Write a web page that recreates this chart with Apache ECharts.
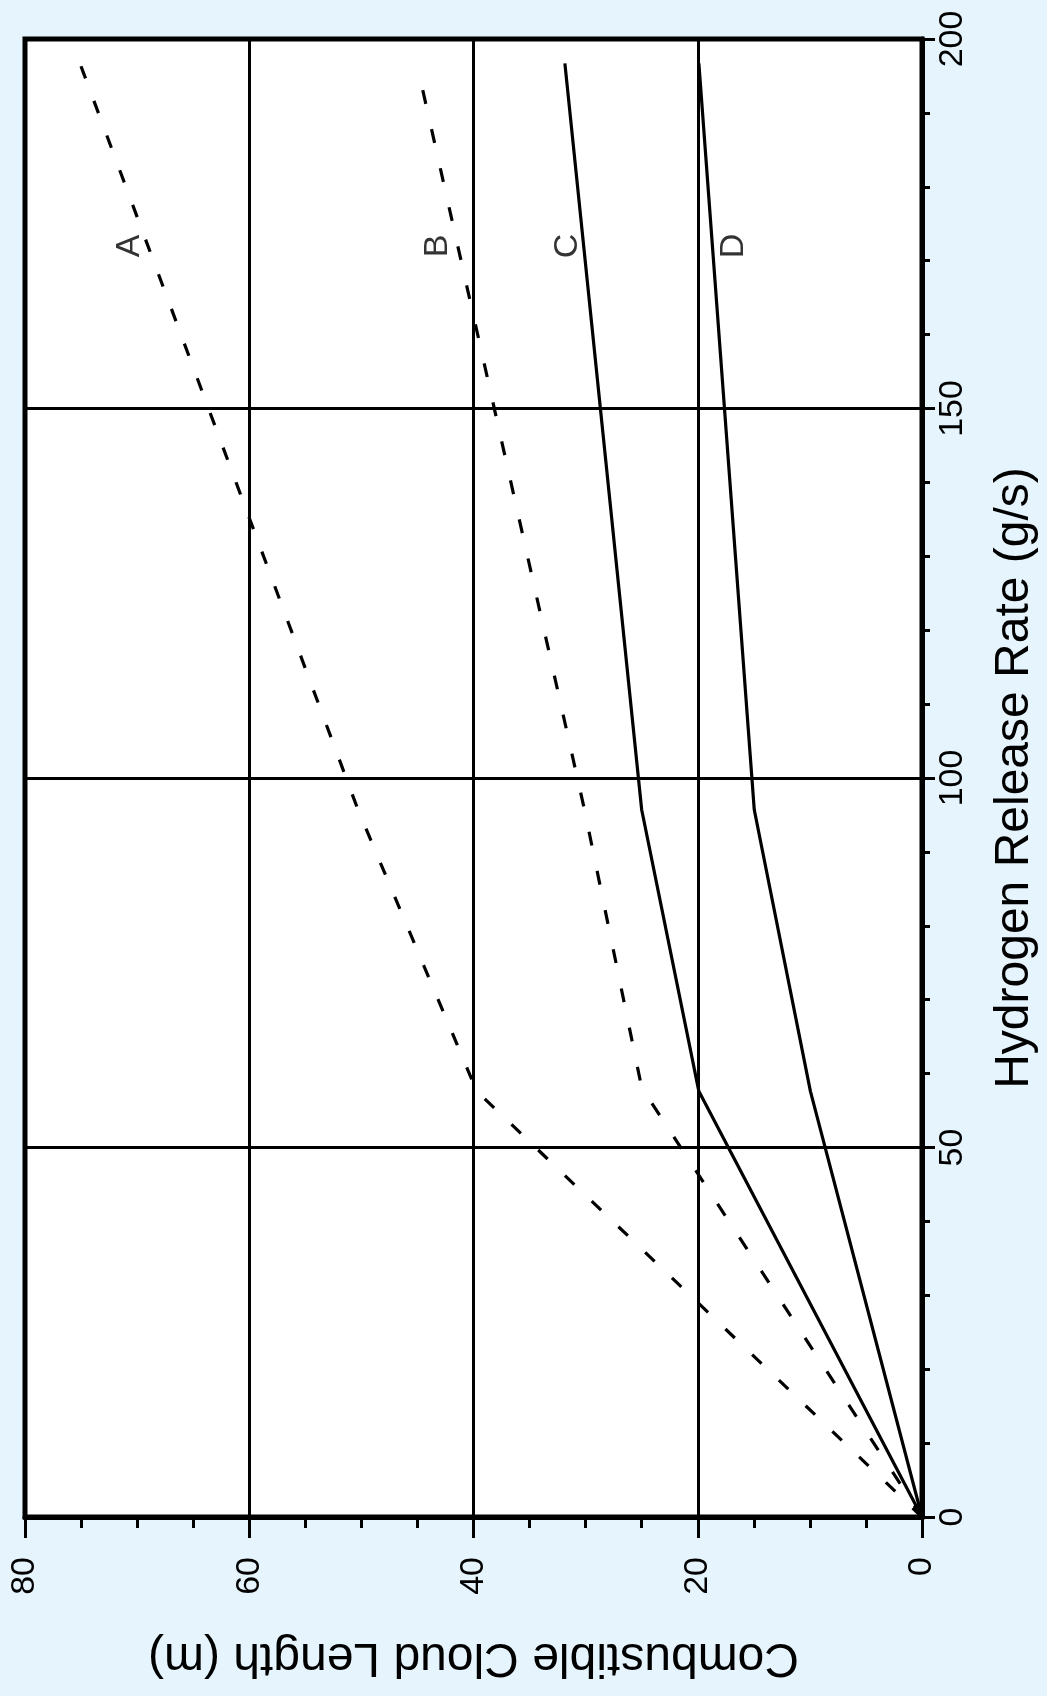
<!DOCTYPE html>
<html><head><meta charset="utf-8">
<script src="https://cdn.jsdelivr.net/npm/echarts@6/dist/echarts.min.js"></script>
<style>html,body{margin:0;padding:0;background:#e6f5fd;}#c{width:1047px;height:1696px;}</style>
</head><body><div id="c"></div>
<script>
// Combustible cloud length (m) vs hydrogen release rate (g/s), curves A-D
const lengthA = [0, 39.7, 50.3, 75.1];
const rateA   = [0, 57.6, 95.7, 196.7];
const lengthB = [0, 25.0, 30.1, 44.9];
const rateB   = [0, 58.1, 95.7, 195.6];
const lengthC = [0, 19.9, 25.0, 31.85];
const rateC   = [0, 57.6, 95.7, 196.7];
const lengthD = [0, 9.95, 14.96, 19.9];
const rateD   = [0, 57.6, 95.7, 196.7];
const curveNames = ['A', 'B', 'C', 'D'];
const labelLengths = [70.7, 43.2, 31.6, 16.8];
const labelRates = [172, 172, 172, 172];
const lengthTicks = [0, 20, 40, 60, 80];
const rateTicks = [0, 50, 100, 150, 200];

const FONT = "'Liberation Sans', Arial, Helvetica, sans-serif";
const pairs = (xs, ys) => xs.map((x, i) => [x, ys[i]]);
const lineSeries = (name, xs, ys, type) => ({
  name, type: 'line', data: pairs(xs, ys), symbol: 'none', silent: true,
  lineStyle: { color: '#000', width: 3.2, type: type }, z: 3
});

const chart = echarts.init(document.getElementById('c'), null, { renderer: 'canvas' });
chart.setOption({
  animation: false,
  backgroundColor: '#e6f5fd',
  grid: { left: 25, right: 122, top: 39, bottom: 179, show: true,
          backgroundColor: '#ffffff', borderColor: '#000', borderWidth: 5 },
  xAxis: {
    type: 'value', min: lengthTicks[0], max: lengthTicks[lengthTicks.length - 1], interval: 20,
    inverse: true, position: 'bottom',
    axisLine: { show: true, onZero: false, lineStyle: { color: '#000', width: 5 } },
    axisTick: { show: true, length: 21, lineStyle: { color: '#000', width: 3 } },
    minorTick: { show: true, splitNumber: 4, length: 11, lineStyle: { color: '#000', width: 3 } },
    splitLine: { show: true, lineStyle: { color: '#000', width: 3 } },
    axisLabel: { rotate: 90, margin: 40, fontSize: 34, color: '#000', fontFamily: FONT },
    name: 'Combustible Cloud Length (m)', nameLocation: 'middle', nameRotate: 180, nameGap: 116,
    nameTextStyle: { fontSize: 48, color: '#000', fontFamily: FONT }
  },
  yAxis: {
    type: 'value', min: rateTicks[0], max: rateTicks[rateTicks.length - 1], interval: 50,
    position: 'right',
    axisLine: { show: true, onZero: false, lineStyle: { color: '#000', width: 5 } },
    axisTick: { show: true, length: 13, lineStyle: { color: '#000', width: 3 } },
    minorTick: { show: true, splitNumber: 5, length: 8, lineStyle: { color: '#000', width: 3 } },
    splitLine: { show: true, lineStyle: { color: '#000', width: 3 } },
    axisLabel: { rotate: 90, margin: 14, fontSize: 34, color: '#000', fontFamily: FONT },
    name: 'Hydrogen Release Rate (g/s)', nameLocation: 'middle', nameRotate: 90, nameGap: 69,
    nameTextStyle: { fontSize: 48, color: '#000', fontFamily: FONT }
  },
  series: [
    lineSeries('A', lengthA, rateA, [13, 24]),
    lineSeries('B', lengthB, rateB, [14, 26]),
    lineSeries('C', lengthC, rateC, 'solid'),
    lineSeries('D', lengthD, rateD, 'solid'),
    {
      name: 'labels', type: 'scatter', symbolSize: 0, silent: true, z: 4,
      data: pairs(labelLengths, labelRates),
      label: { show: true, position: 'inside', rotate: 90, fontSize: 34, color: '#000',
               fontFamily: FONT, formatter: p => curveNames[p.dataIndex] }
    }
  ]
});
</script>
</body></html>
